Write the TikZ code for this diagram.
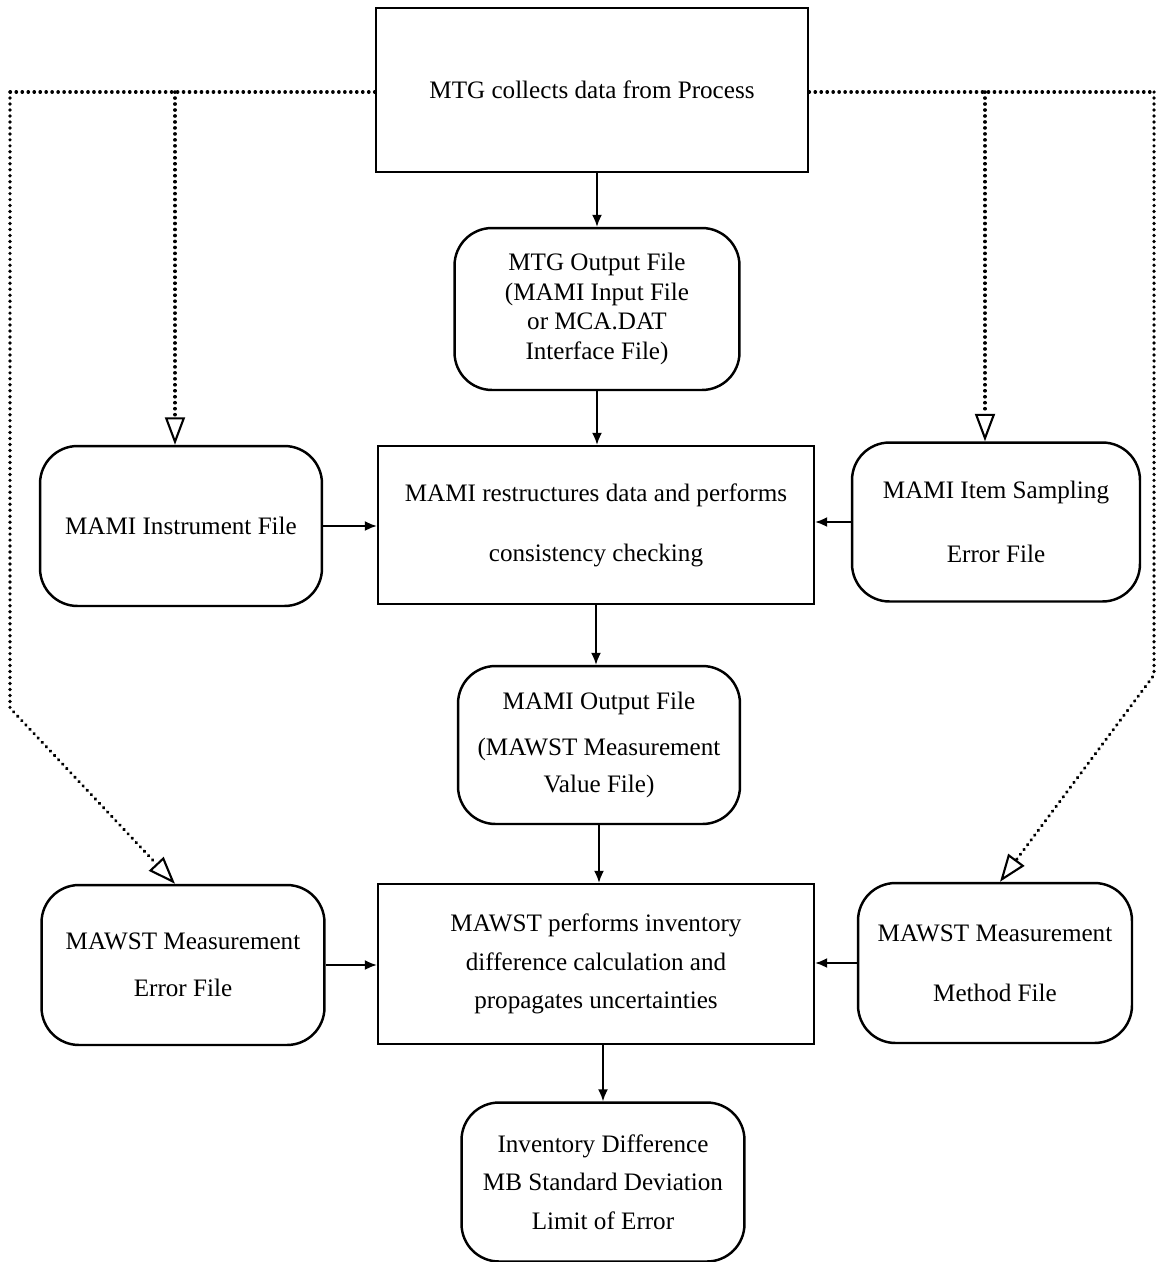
\documentclass[tikz,border=0pt]{standalone}
\usepackage{fontspec}
\setmainfont{Liberation Serif}
\usetikzlibrary{positioning, arrows.meta, calc}

\begin{document}
\begin{tikzpicture}[
    x=0.02cm, y=-0.02cm,
    every node/.style={font=\fontsize{14.3}{17}\selectfont, align=center},
    procbox/.style={rectangle, draw=black, line width=1.4pt},
    filebox/.style={rectangle, rounded corners=0.75cm, draw=black, line width=1.4pt},
    arrow/.style={-{Latex[length=2.4mm, width=2mm]}, line width=1pt},
    dotline/.style={line width=2pt, line cap=round, dash pattern=on 0.1pt off 3.3pt},
    dotarrow/.style={dotline, -{Triangle[open, length=5.5mm, width=4mm, line width=1.2pt]}}
]
    \useasboundingbox (0,0) rectangle (1158,1262);

    % === Centre column ===
    \node[procbox, minimum width=8.64cm, minimum height=3.28cm] (collect) at (592, 90)
        {MTG collects data from Process};
    \node[filebox, minimum width=5.7cm, minimum height=3.24cm] (mtgout) at (597, 309)
        {MTG Output File\\(MAMI Input File\\or MCA.DAT\\Interface File)};
    \node[procbox, minimum width=8.72cm, minimum height=3.16cm] (restruct) at (596, 525)
        {MAMI restructures data and performs\\[17pt]consistency checking};
    \node[filebox, minimum width=5.64cm, minimum height=3.16cm] (mamiout) at (599, 745)
        {MAMI Output File\\[9pt](MAWST Measurement\\[4pt]Value File)};
    \node[procbox, minimum width=8.72cm, minimum height=3.2cm] (perform) at (596, 964)
        {MAWST performs inventory\\[5pt]difference calculation and\\[5pt]propagates uncertainties};
    \node[filebox, minimum width=5.66cm, minimum height=3.18cm] (result) at (603, 1182)
        {Inventory Difference\\[5pt]MB Standard Deviation\\[5pt]Limit of Error};

    % === Side files ===
    \node[filebox, minimum width=5.64cm, minimum height=3.2cm] (instr) at (181, 526)
        {MAMI Instrument File};
    \node[filebox, minimum width=5.76cm, minimum height=3.18cm] (sampling) at (996, 522)
        {MAMI Item Sampling\\[19pt]Error File};
    \node[filebox, minimum width=5.66cm, minimum height=3.2cm] (errfile) at (183, 965)
        {MAWST Measurement\\[10pt]Error File};
    \node[filebox, minimum width=5.48cm, minimum height=3.2cm] (method) at (995, 963)
        {MAWST Measurement\\[17pt]Method File};

    % === Solid flow ===
    \draw[arrow] (collect.south -| mtgout.north) -- (mtgout.north);
    \draw[arrow] (mtgout.south) -- (mtgout.south |- restruct.north);
    \draw[arrow] (restruct.south) -- (restruct.south |- mamiout.north);
    \draw[arrow] (mamiout.south) -- (mamiout.south |- perform.north);
    \draw[arrow] (perform.south -| result.north) -- (result.north);
    \draw[arrow] (instr.east) -- (instr.east -| restruct.west);
    \draw[arrow] (sampling.west) -- (sampling.west -| restruct.east);
    \draw[arrow] (errfile.east) -- (errfile.east -| perform.west);
    \draw[arrow] (method.west) -- (method.west -| perform.east);

    % === Dotted links ===
    \coordinate (ltop) at (10, 92);
    \coordinate (lbend) at (10, 708);
    \coordinate (lbranch) at (175, 92);
    \coordinate (rtop) at (1154, 92);
    \coordinate (rbend) at (1154, 675);
    \coordinate (rbranch) at (985, 92);

    \draw[dotline] (collect.west |- ltop) -- (ltop);
    \draw[dotarrow] (ltop) -- (lbend) -- (errfile.north -| 175, 0);
    \draw[dotarrow] (lbranch) -- (lbranch |- instr.north);
    \draw[dotline] (collect.east |- rtop) -- (rtop);
    \draw[dotarrow] (rtop) -- (rbend) -- (method.north -| 1000, 0);
    \draw[dotarrow] (rbranch) -- (rbranch |- sampling.north);

\end{tikzpicture}
\end{document}
